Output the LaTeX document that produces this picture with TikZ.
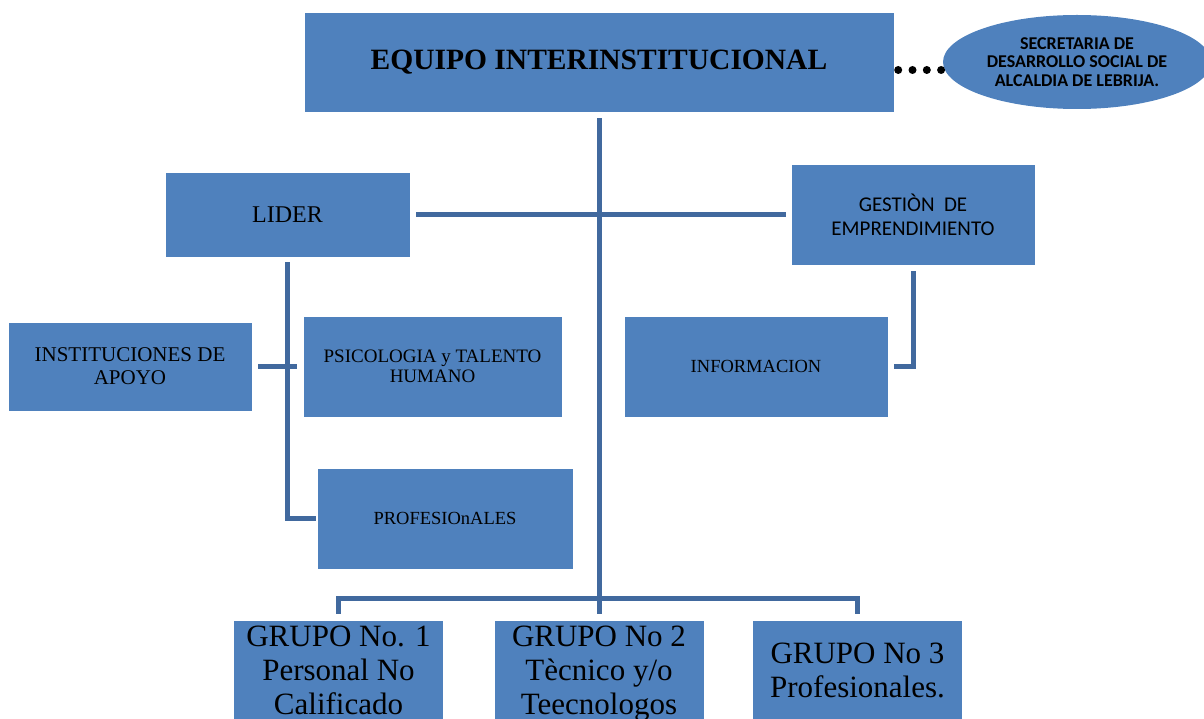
\documentclass[tikz,border=0pt]{standalone}
\usepackage{fontspec}
\setmainfont{Liberation Serif}
\newfontfamily\calibri{Carlito}
\usetikzlibrary{shapes.geometric}
\definecolor{boxblue}{HTML}{4F81BD}
\definecolor{lineblue}{HTML}{41699E}
\newcommand\grupofont{\fontsize{31}{34}\selectfont\lineskiplimit=-20pt\relax}

\begin{document}
\begin{tikzpicture}[x=1pt,y=-1pt,
  box/.style={draw=white,fill=boxblue,inner sep=0pt,align=center,font=\fontsize{18.5}{21}\selectfont},
  conn/.style={draw=lineblue,line width=5pt}]
\useasboundingbox (0,0) rectangle (1204,719);

\node (equipo) at (599,62)[box,minimum width=590pt,minimum height=100pt,font=\fontsize{29.5}{32}\selectfont\bfseries]{EQUIPO INTERINSTITUCIONAL};

\node (secre) at (1077,62)[ellipse,fill=boxblue,minimum width=268pt,minimum height=94pt,inner sep=0pt,align=center,font=\calibri\bfseries\fontsize{18}{18.5}\selectfont]{SECRETARIA DE\\DESARROLLO SOCIAL DE\\ALCALDIA DE LEBRIJA.};

\node (lider) at (287.5,214.5)[box,minimum width=245pt,minimum height=85pt,font=\fontsize{24}{26}\selectfont]{LIDER};

\node (gestion) at (913,214.5)[box,minimum width=244pt,minimum height=101pt,font=\calibri\fontsize{21}{24}\selectfont]{GESTIÒN~ DE\\EMPRENDIMIENTO};

\node (inst) at (130,366.5)[box,minimum width=244pt,minimum height=89pt,font=\fontsize{21}{23}\selectfont]{INSTITUCIONES DE\\APOYO};

\node (psico) at (432.5,366.5)[box,minimum width=259pt,minimum height=101pt,font=\fontsize{19}{20}\selectfont]{PSICOLOGIA y TALENTO\\HUMANO};

\node (info) at (756,366.5)[box,minimum width=264pt,minimum height=101pt]{INFORMACION};

\node (profes) at (445,518.5)[box,minimum width=256pt,minimum height=101pt]{PROFESIOnALES};

\foreach \n/\xx/\txt in {1/338.5/{GRUPO No. 1\\Personal No\\Calificado},2/599/{GRUPO No 2\\Tècnico y/o\\Teecnologos},3/857.5/{GRUPO No 3\\Profesionales.}}
{
\node (g\n) at (\xx,674)[box,minimum width=210pt,minimum height=108pt,font=\grupofont]{\txt\vphantom{g}};
}

\coordinate (bus) at (599,598);

\draw[conn] ([yshift=-6pt]equipo.south) -- ([yshift=6pt]g2.north);
\draw[conn] ([yshift=6pt]g1.north) |- (bus) -| ([yshift=6pt]g3.north);
\draw[conn] ([xshift=6pt]lider.east) -- ([xshift=-5pt]gestion.west);
\draw[conn] ([yshift=-5pt]lider.south) |- ([xshift=-1pt]profes.west);
\draw[conn] ([xshift=6pt]inst.east) -- ([xshift=-6pt]psico.west);
\draw[conn] ([yshift=-6pt]gestion.south) |- ([xshift=6pt]info.east);

%dots to the secretaria
\draw[line width=8pt,dash pattern=on 0pt off 14.3pt,line cap=round] ([shift={(4pt,-8pt)}]equipo.east) -- ([yshift=-8pt]secre.west);

\end{tikzpicture}
\end{document}
